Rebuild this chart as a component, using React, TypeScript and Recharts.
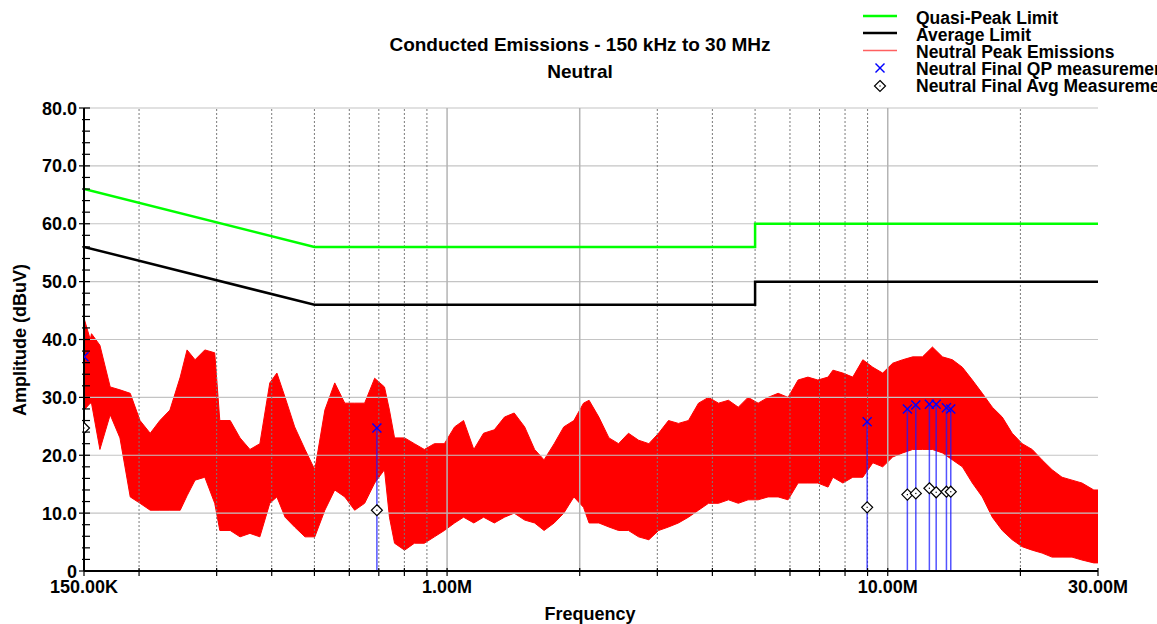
import React from 'react';
import { ComposedChart, XAxis, YAxis, Line, Area, Scatter, ReferenceLine } from 'recharts';

const FONT = '"Liberation Sans", Arial, sans-serif';

// neutral peak trace, read as a band (MHz, dBuV)
const peakFreq = [
  0.15, 0.155, 0.156, 0.163, 0.172, 0.181, 0.191, 0.201, 0.212, 0.223, 0.235, 0.248, 0.257, 0.268, 0.282,
  0.297, 0.305, 0.322, 0.339, 0.357, 0.376, 0.396, 0.411, 0.429, 0.451, 0.476, 0.501, 0.528, 0.556, 0.586,
  0.617, 0.65, 0.685, 0.721, 0.74, 0.76, 0.801, 0.843, 0.888, 0.936, 0.986, 1.04, 1.09, 1.15, 1.21,
  1.28, 1.35, 1.42, 1.5, 1.58, 1.66, 1.75, 1.84, 1.94, 2.04, 2.1, 2.21, 2.33, 2.45, 2.58,
  2.72, 2.87, 3.02, 3.18, 3.35, 3.53, 3.72, 3.92, 4.13, 4.35, 4.58, 4.82, 5.08, 5.35, 5.64,
  5.94, 6.26, 6.59, 6.94, 7.32, 7.51, 7.91, 8.33, 8.78, 9.25, 9.74, 10.26, 10.81, 11.39, 11.99,
  12.63, 13.31, 14.02, 14.77, 15.56, 16.39, 17.27, 18.19, 19.16, 20.19, 21.27, 22.4, 23.6, 24.86, 26.19,
  27.59, 29.35, 30,
];
const peakHigh = [
  43.7, 40, 41, 39, 31.8, 31.3, 30.7, 26, 23.8, 26, 27.8, 33.5, 38.2, 36.5, 38.2,
  37.7, 26, 26, 23, 21, 22, 32.5, 34.2, 30, 24.9, 21, 17.5, 27.8, 32.5, 29,
  29, 29, 33.3, 31.8, 27.8, 23, 23, 22, 21, 22, 22, 24.9, 26, 21, 23.8,
  24.4, 26.6, 27.3, 24.9, 21, 19.2, 22, 24.9, 26, 29, 29.5, 26.6, 23, 22, 23.8,
  22.6, 22, 23.8, 26, 25.5, 26, 29, 30, 29, 29.5, 28.3, 30, 29, 30, 30.7,
  30, 33, 33.5, 33, 33.5, 34.7, 34.2, 33.5, 36.5, 35.2, 34.2, 35.9, 36.5, 37, 37,
  38.7, 37, 36.5, 35.2, 33, 30.7, 28.3, 26.6, 23.8, 22, 21, 19.2, 17.5, 16.2, 15.7,
  15.2, 14, 14,
];
const peakLow = [
  27.8, 29, 29, 21, 27, 23, 12.8, 11.7, 10.5, 10.5, 10.5, 10.5, 13, 15.7, 16.2,
  11.7, 7, 7, 5.9, 6.5, 5.9, 11.7, 12.8, 9.3, 7.6, 5.9, 5.9, 10.5, 14, 12.8,
  10.5, 11.7, 15.2, 17.5, 9.3, 4.8, 3.6, 4.8, 4.8, 5.9, 7, 8.3, 9.3, 8.3, 9.3,
  8.3, 9.3, 10, 8.8, 8.3, 7, 8.3, 10, 12.8, 11, 8.3, 8.3, 7.6, 7, 7,
  5.9, 5.4, 7, 7.6, 8.3, 9.3, 10.5, 11.7, 11.7, 12.3, 11.7, 12.3, 12.3, 12.8, 12.8,
  12.3, 15.2, 15.2, 15.2, 14.5, 16.2, 15.2, 16.2, 16.2, 18.7, 18, 19.7, 20.4, 21, 21,
  21, 20.4, 19.2, 18, 15.2, 12.8, 9.3, 7, 5.4, 4.2, 3.6, 3.1, 2.4, 2.4, 2.4,
  1.9, 1.4, 1.4,
];

// EN 55022 class B style limits
const limitFreq = [0.15, 0.5, 5, 5, 30];
const qpLimit = [66, 56, 56, 60, 60];
const avgLimit = [56, 46, 46, 50, 50];

// final measurements
const measFreq = [0.15, 0.693, 8.98, 11.08, 11.58, 12.43, 12.88, 13.59, 13.9];
const measQP = [37, 24.7, 25.8, 28.0, 28.7, 28.8, 28.8, 28.2, 28.0];
const measAvg = [24.7, 10.5, 11.0, 13.2, 13.4, 14.3, 13.6, 13.7, 13.7];

const xLabelFreq = [0.15, 1, 10, 30];
const xLabelText = ['150.00K', '1.00M', '10.00M', '30.00M'];
const gridMajor = [1, 2, 10];
const gridMinor = [0.2, 0.3, 0.4, 0.5, 0.6, 0.7, 0.8, 0.9, 3, 4, 5, 6, 7, 8, 9, 20];
const gridY = [10, 20, 30, 40, 50, 60, 70, 80];
const xTicks = [0.15, 0.2, 0.3, 0.4, 0.5, 0.6, 0.7, 0.8, 0.9, 1, 2, 3, 4, 5, 6, 7, 8, 9, 10, 20, 30];
const yTicks = [
  0, 2, 4, 6, 8, 10, 12, 14, 16, 18, 20, 22, 24, 26, 28, 30, 32, 34, 36, 38, 40,
  42, 44, 46, 48, 50, 52, 54, 56, 58, 60, 62, 64, 66, 68, 70, 72, 74, 76, 78, 80,
];

const peakData = peakFreq.map((f, i) => ({ f, range: [peakLow[i], peakHigh[i]] }));
const qpData = limitFreq.map((f, i) => ({ f, v: qpLimit[i] }));
const avgData = limitFreq.map((f, i) => ({ f, v: avgLimit[i] }));
const stemData = measFreq.flatMap((f, i) => [{ f, v: 0 }, { f, v: measQP[i] }, { f, v: null }]);
const qpPoints = measFreq.map((f, i) => ({ f, v: measQP[i] }));
const avgPoints = measFreq.map((f, i) => ({ f, v: measAvg[i] }));

const XMark = ({ cx, cy }: any) => (
  <g>
    <line x1={cx - 4.5} y1={cy - 4.5} x2={cx + 4.5} y2={cy + 4.5} stroke="#0000ff" strokeWidth={1.4} />
    <line x1={cx - 4.5} y1={cy + 4.5} x2={cx + 4.5} y2={cy - 4.5} stroke="#0000ff" strokeWidth={1.4} />
  </g>
);

const Diamond = ({ cx, cy }: any) => (
  <g>
    <path d={`M${cx},${cy - 5.5}L${cx + 5.5},${cy}L${cx},${cy + 5.5}L${cx - 5.5},${cy}Z`} fill="#fff" stroke="#000" strokeWidth={1.2} />
    <rect x={cx - 0.6} y={cy - 0.6} width={1.2} height={1.2} fill="#000" />
  </g>
);

const XTick = ({ x, y, payload }: any) => {
  const idx = xLabelFreq.indexOf(payload.value);
  return (
    <g>
      <line x1={x} y1={y - 3} x2={x} y2={y + 5} stroke="#000" strokeWidth={1.2} />
      {idx >= 0 && (
        <text x={x} y={y + 22} textAnchor="middle" fontFamily={FONT} fontWeight="bold" fontSize={18} fill="#000">
          {xLabelText[idx]}
        </text>
      )}
    </g>
  );
};

const YTick = ({ x, y, payload }: any) => {
  const major = payload.value % 10 === 0;
  return (
    <g>
      <line x1={x - (major ? 5 : 2)} y1={y} x2={x + 6} y2={y} stroke="#000" strokeWidth={1.2} />
      {major && (
        <text x={x - 7} y={y + 6.5} textAnchor="end" fontFamily={FONT} fontWeight="bold" fontSize={18} fill="#000">
          {payload.value === 0 ? '0' : payload.value.toFixed(1)}
        </text>
      )}
    </g>
  );
};

const legendRows = ['Quasi-Peak Limit', 'Average Limit', 'Neutral Peak Emissions', 'Neutral Final QP measurement', 'Neutral Final Avg Measurement'];

export default function App() {
  return (
    <div style={{ position: 'absolute', left: 0, top: 0, width: 1157, height: 624, overflow: 'hidden', background: '#fff' }}>
      <ComposedChart width={1157} height={624} data={peakData} margin={{ top: 108, right: 59, left: 0, bottom: 0 }}>
        {gridY.map((v) => (
          <ReferenceLine key={'y' + v} y={v} stroke="#c4c4c4" strokeWidth={1.2} />
        ))}
        {gridMajor.map((f) => (
          <ReferenceLine key={'M' + f} x={f} stroke="#b4b4b4" strokeWidth={1.5} />
        ))}
        {gridMinor.map((f) => (
          <ReferenceLine key={'m' + f} x={f} stroke="#7a7a7a" strokeWidth={1} strokeDasharray="2 2" />
        ))}
        <XAxis
          dataKey="f"
          type="number"
          scale="log"
          domain={[0.15, 30]}
          allowDataOverflow
          ticks={xTicks}
          interval={0}
          height={53}
          tickSize={0}
          tickMargin={0}
          tickLine={false}
          tick={<XTick />}
          axisLine={{ stroke: '#000', strokeWidth: 2 }}
        />
        <YAxis
          type="number"
          domain={[0, 80]}
          allowDataOverflow
          ticks={yTicks}
          interval={0}
          width={84}
          tickSize={0}
          tickMargin={0}
          tickLine={false}
          tick={<YTick />}
          axisLine={{ stroke: '#000', strokeWidth: 2 }}
        />
        <Area dataKey="range" type="linear" stroke="#ff0000" strokeWidth={1} fill="#ff0000" fillOpacity={1} isAnimationActive={false} />
        <Line data={qpData} dataKey="v" type="linear" stroke="#00ff00" strokeWidth={2.5} dot={false} isAnimationActive={false} />
        <Line data={avgData} dataKey="v" type="linear" stroke="#000000" strokeWidth={2.5} dot={false} isAnimationActive={false} />
        <Line data={stemData} dataKey="v" type="linear" stroke="#1a1aff" strokeOpacity={0.75} strokeWidth={1.5} dot={false} connectNulls={false} isAnimationActive={false} />
        <Scatter data={qpPoints} dataKey="v" shape={<XMark />} isAnimationActive={false} />
        <Scatter data={avgPoints} dataKey="v" shape={<Diamond />} isAnimationActive={false} />
      </ComposedChart>
      <svg width={1157} height={624} style={{ position: 'absolute', left: 0, top: 0, pointerEvents: 'none' }}>
        <g fontFamily={FONT} fontWeight="bold" fill="#000">
          <text x={580} y={51} textAnchor="middle" fontSize={19}>Conducted Emissions - 150 kHz to 30 MHz</text>
          <text x={580} y={78} textAnchor="middle" fontSize={19}>Neutral</text>
          <text x={590} y={620} textAnchor="middle" fontSize={18}>Frequency</text>
          <text transform="translate(26,340) rotate(-90)" textAnchor="middle" fontSize={18}>Amplitude (dBuV)</text>
        </g>
        <line x1={863} y1={16} x2={897} y2={16} stroke="#00ff00" strokeWidth={2.5} />
        <line x1={863} y1={33} x2={897} y2={33} stroke="#000" strokeWidth={2.5} />
        <line x1={863} y1={50.5} x2={897} y2={50.5} stroke="#ff6060" strokeWidth={1.5} />
        <XMark cx={880} cy={68} />
        <Diamond cx={880} cy={86} />
        <g fontFamily={FONT} fontWeight="bold" fill="#000" fontSize={17.5}>
          {legendRows.map((t, i) => (
            <text key={t} x={916} y={23.5 + i * 17}>{t}</text>
          ))}
        </g>
      </svg>
    </div>
  );
}
